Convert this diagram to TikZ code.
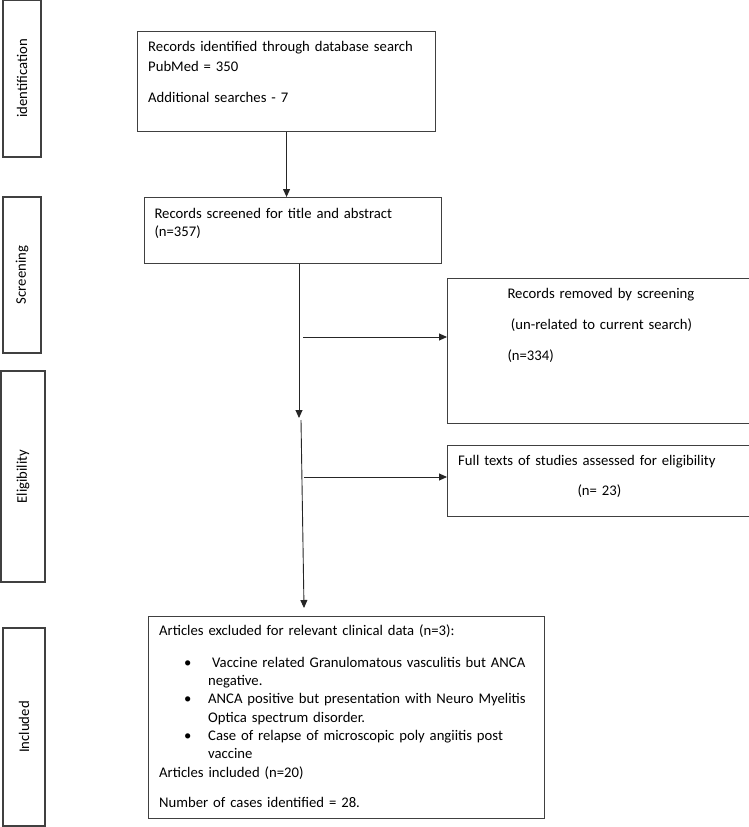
\documentclass[tikz,border=0pt]{standalone}
\usepackage{fontspec}
\setmainfont{Carlito}
\usepackage{graphicx}
\usepackage{tikz}
\usetikzlibrary{arrows.meta,positioning}

\begin{document}
\begin{tikzpicture}[
    x=1pt, y=-1pt,
    box/.style={
        % The shape:
        rectangle,
        inner sep=0pt,
        % The border
        line width=1.1pt,
        draw=black!75,
        % The fonts
        font=\fontsize{14.7}{18.3}\selectfont},
    flowbox/.style={
        box,
        anchor=north west},
    txt/.style={
        anchor=base west,
        inner sep=0pt,
        text width=380pt,
        align=left,
        font=\fontsize{14.7}{18.3}\selectfont},
    arrow/.style={
        line width=0.9pt,
        draw=black!85,
        -{Triangle[length=8pt,width=7pt]}}
  ]
  \useasboundingbox (0,0) rectangle (749,827);
  \clip (0,0) rectangle (749,827);

  % stages on the left
  \node (ident) [box, minimum width=38pt, minimum height=157pt] at (22,78.5) {\rotatebox{90}{identification}};
  \node (screen) [box, minimum width=38pt, minimum height=156pt] at (22,275) {\rotatebox{90}{Screening}};
  \node (elig) [box, minimum width=44pt, minimum height=211pt] at (23,476.5) {\rotatebox{90}{Eligibility}};
  \node (incl) [box, minimum width=42pt, minimum height=198pt] at (24,727) {\rotatebox{90}{Included}};

  % flow boxes
  \node (recid) [flowbox, minimum width=298pt, minimum height=100pt] at (137,31) {};
  \node (screened) [flowbox, minimum width=297pt, minimum height=66pt] at (144,197) {};
  \node (removed) [flowbox, minimum width=320pt, minimum height=145pt] at (447,278) {};
  \node (fulltext) [flowbox, minimum width=320pt, minimum height=71pt] at (447,445) {};
  \node (excluded) [flowbox, minimum width=396pt, minimum height=202pt] at (148,616) {};

  % texts
  \node (recidtext) [txt] at (148,51.7) {Records identified through database search\\[1pt]PubMed = 350\\[12.7pt]Additional searches - 7};
  \node (screenedtext) [txt] at (154.3,218.3) {Records screened for title and abstract\\(n=357)};
  \node (removedtext) [txt] at (507.3,298.7) {Records removed by screening\\[12.3pt]\hspace*{3.4pt}(un-related to current search)\\[12.4pt](n=334)};
  \node (fulltexttext) [txt] at (458,465) {Full texts of studies assessed for eligibility\\[12.4pt]\hspace*{119.3pt}(n= 23)};
  \node (excludedtext) [txt] at (159,635.7) {Articles excluded for relevant clinical data (n=3):\\[13.3pt]
    \hspace*{25pt}\makebox[24pt][l]{\textbullet}\hspace*{4pt}Vaccine related Granulomatous vasculitis but ANCA\\
    \hspace*{49pt}negative.\\
    \hspace*{25pt}\makebox[24pt][l]{\textbullet}ANCA positive but presentation with Neuro Myelitis\\
    \hspace*{49pt}Optica spectrum disorder.\\
    \hspace*{25pt}\makebox[24pt][l]{\textbullet}Case of relapse of microscopic poly angiitis post\\
    \hspace*{49pt}vaccine\\
    Articles included (n=20)\\[12.3pt]
    Number of cases identified = 28.};

  % connectors
  \coordinate (stop1) at (299,418);
  \coordinate (start2) at (301,420);
  \coordinate (stop2) at (304,608);
  \coordinate (fork1) at (303,337);
  \coordinate (fork2) at (304,477);
  \draw [arrow] (recid.south) -- (recid.south |- screened.north);
  \draw [arrow] (stop1 |- screened.south) -- (stop1);
  \draw [arrow] (start2) -- (stop2);
  \draw [arrow] (fork1) -- (fork1 -| removed.west);
  \draw [arrow] (fork2) -- (fork2 -| fulltext.west);
\end{tikzpicture}
\end{document}
